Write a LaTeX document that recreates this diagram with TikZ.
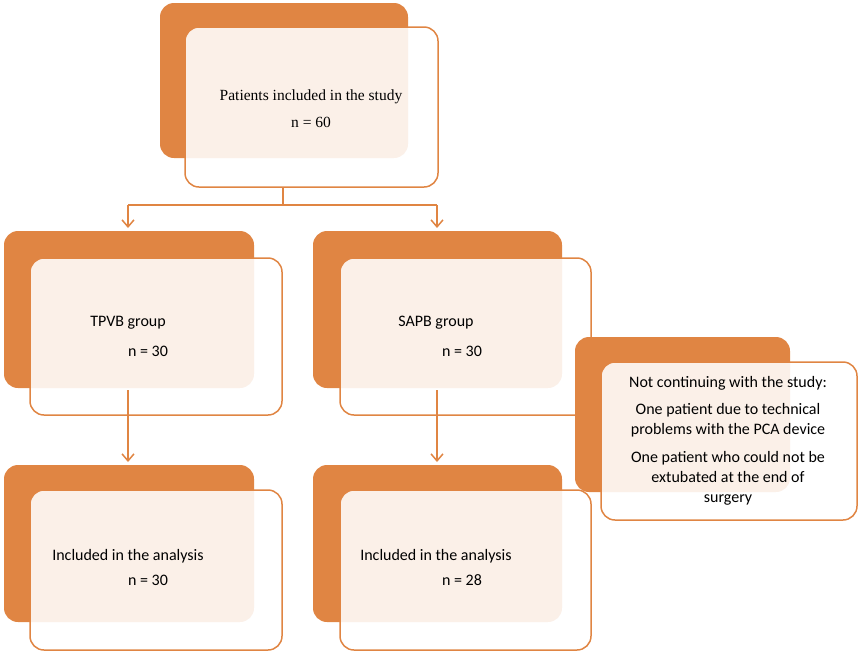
\documentclass[tikz,border=0pt]{standalone}
\usepackage{fontspec}
\setmainfont{Carlito}
\newfontfamily\serifx{Liberation Serif}
\usetikzlibrary{arrows.meta}
\definecolor{org}{HTML}{E08543}
\begin{document}
\begin{tikzpicture}[x=1pt,y=-1pt,
  back/.style={fill=org,draw=none,rounded corners=14pt},
  front/.style={fill=white,fill opacity=0.88,draw=org,draw opacity=1,line width=1.5pt,rounded corners=14pt},
  txt/.style={font=\fontsize{16}{20}\selectfont,text=black,align=center},
  conn/.style={draw=org,line width=1.5pt},
  arr/.style={conn,-{Straight Barb[length=7pt,width=12pt,line width=1.5pt]}}]
\useasboundingbox (0,0) rectangle (858,657);
% top
\fill[back] (160,3) rectangle (408,158);
\draw[front] (185,27) rectangle (438,187);
\node[txt,font=\serifx\fontsize{15.5}{20}\selectfont] (t1) at (311,97) {Patients included in the study};
\node[txt,font=\serifx\fontsize{15.5}{20}\selectfont] (t2) at (311,122) {n = 60};
\coordinate (tb) at (283,187);
\coordinate (tj) at (283,205);
\coordinate (jl) at (128,205);
\coordinate (jr) at (437,205);
\coordinate (al) at (128,228);
\coordinate (ar) at (437,228);
\draw[conn] (tb) -- (tj);
\draw[conn] (jl) -- (jr);
\draw[arr] (jl) -- (al);
\draw[arr] (jr) -- (ar);
% TPVB
\fill[back] (4,231) rectangle (254,388);
\draw[front] (30,258) rectangle (282,415);
\node[txt] (g1) at (128,323) {TPVB group};
\node[txt] (g1n) at (148,351) {n = 30};
% SAPB
\fill[back] (313,231) rectangle (562,388);
\draw[front] (340,258) rectangle (591,415);
\node[txt] (g2) at (436,323) {SAPB group};
\node[txt] (g2n) at (462,351) {n = 30};
% arrows down
\coordinate (l1) at (128,390);
\coordinate (l2) at (128,462);
\coordinate (r1) at (437,390);
\coordinate (r2) at (437,462);
\draw[arr] (l1) -- (l2);
\draw[arr] (r1) -- (r2);
% bottom left
\fill[back] (4,465) rectangle (254,622);
\draw[front] (30,490) rectangle (282,650);
\node[txt] (b1) at (128,556) {Included in the analysis};
\node[txt] (b1n) at (148,580) {n = 30};
% bottom right
\fill[back] (313,465) rectangle (562,622);
\draw[front] (340,490) rectangle (591,650);
\node[txt] (b2) at (436,556) {Included in the analysis};
\node[txt] (b2n) at (462,580) {n = 28};
% side
\fill[back] (575,337) rectangle (790,492);
\draw[front] (601,362) rectangle (857,520);
\node[txt] (s1) at (728,383) {Not continuing with the study:};
\node[txt,font=\fontsize{16}{20}\selectfont] (s2) at (728,420) {One patient due to technical\\problems with the PCA device};
\node[txt,font=\fontsize{16}{20}\selectfont] (s3) at (728,478) {One patient who could not be\\extubated at the end of\\surgery};
\end{tikzpicture}
\end{document}
